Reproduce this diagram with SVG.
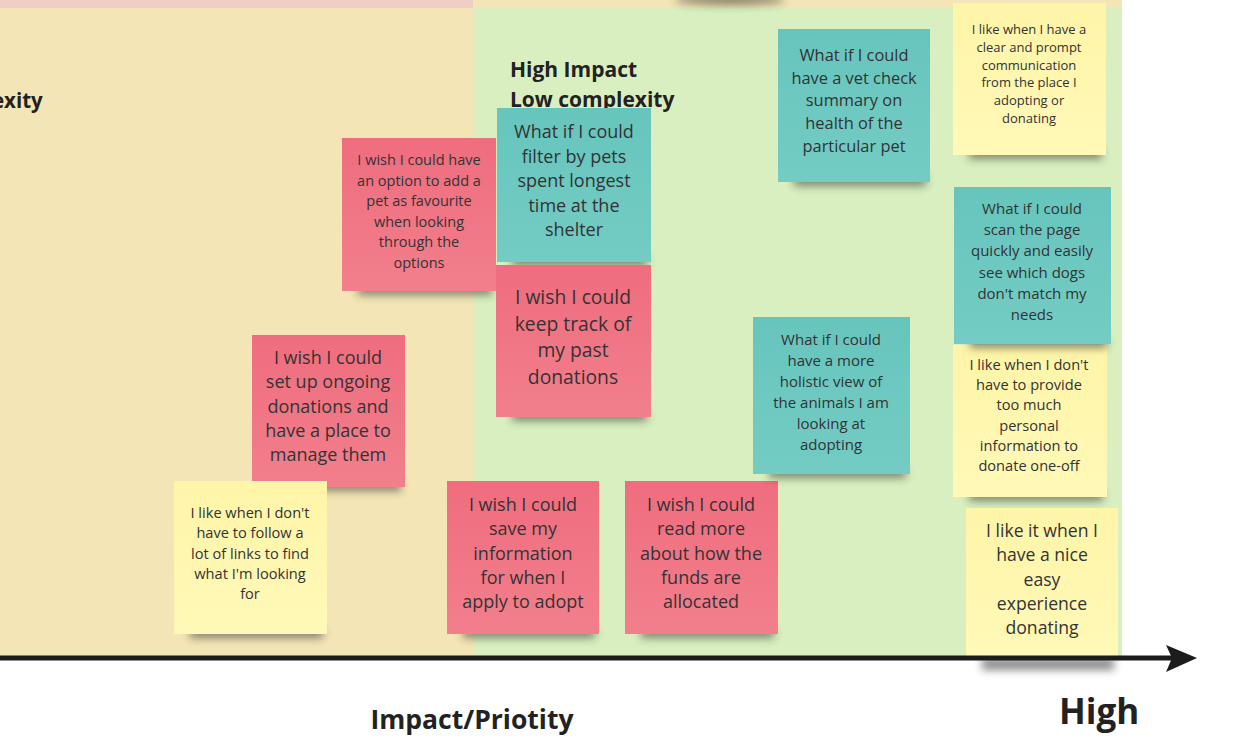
<svg xmlns="http://www.w3.org/2000/svg" width="1250" height="750" viewBox="0 0 1250 750">
<defs>
<filter id="blur" x="-20%" y="-100%" width="140%" height="300%"><feGaussianBlur stdDeviation="4"/></filter>
<linearGradient id="gPink" x1="0" y1="0" x2="0" y2="1"><stop offset="0" stop-color="#ef6d7e"/><stop offset="1" stop-color="#f27f8c"/></linearGradient>
<linearGradient id="gTeal" x1="0" y1="0" x2="0" y2="1"><stop offset="0" stop-color="#66c5bd"/><stop offset="1" stop-color="#74ccc4"/></linearGradient>
<linearGradient id="gYel" x1="0" y1="0" x2="0" y2="1"><stop offset="0" stop-color="#fff5a8"/><stop offset="1" stop-color="#fff9b8"/></linearGradient>
<style>
.pink{fill:url(#gPink)}
.teal{fill:url(#gTeal)}
.yel{fill:url(#gYel)}
.sh{fill:#2a2a2a;opacity:0.55;filter:url(#blur)}
text{font-family:"Open Sans","Noto Sans","DejaVu Sans",sans-serif;fill:#333;text-anchor:middle}
.hd{font-weight:bold;fill:#222;text-anchor:start}
</style>
</defs>
<g id="background">
<rect x="0" y="0" width="473" height="8" fill="#f1cdc8"/>
<rect x="473" y="0" width="649" height="8" fill="#f3e5b5"/>
<rect x="0" y="8" width="473" height="650" fill="#f3e5b5"/>
<rect x="473" y="8" width="649" height="650" fill="#d9efbf"/>
<ellipse cx="730" cy="0" rx="55" ry="5" class="sh"/>
</g>
<g id="labels">
<text class="hd" x="-8" y="108" font-size="20.5">exity</text>
<text class="hd" x="510" y="77" font-size="21">High Impact</text>
<text class="hd" x="510" y="107" font-size="21">Low complexity</text>
<text class="hd" x="1059" y="724" font-size="35">High</text>
<text class="hd" x="472" y="729" font-size="26.5" style="text-anchor:middle">Impact/Priotity</text>
</g>
<g id="n1"><rect class="sh" x="358" y="285" width="134" height="10"/><rect class="pink" x="342" y="138" width="154" height="153"/>
<text font-size="14.5"><tspan x="419" y="165">I wish I could have</tspan><tspan x="419" y="185.5">an option to add a</tspan><tspan x="419" y="206">pet as favourite</tspan><tspan x="419" y="226.5">when looking</tspan><tspan x="419" y="247">through the</tspan><tspan x="419" y="267.5">options</tspan></text></g>
<g id="n2"><rect class="sh" x="512" y="256" width="135" height="10"/><rect class="teal" x="497" y="108" width="154" height="154"/>
<text font-size="18"><tspan x="574" y="138">What if I could</tspan><tspan x="574" y="162.5">filter by pets</tspan><tspan x="574" y="187">spent longest</tspan><tspan x="574" y="211.5">time at the</tspan><tspan x="574" y="236">shelter</tspan></text></g>
<g id="n3"><rect class="sh" x="512" y="411" width="135" height="10"/><rect class="pink" x="496" y="265" width="155" height="152"/>
<text font-size="19.3"><tspan x="573" y="304">I wish I could</tspan><tspan x="573" y="330.5">keep track of</tspan><tspan x="573" y="357">my past</tspan><tspan x="573" y="383.5">donations</tspan></text></g>
<g id="n4"><rect class="sh" x="268" y="481" width="133" height="10"/><rect class="pink" x="252" y="335" width="153" height="152"/>
<text font-size="18"><tspan x="328" y="364">I wish I could</tspan><tspan x="328" y="388.3">set up ongoing</tspan><tspan x="328" y="412.6">donations and</tspan><tspan x="328" y="436.9">have a place to</tspan><tspan x="328" y="461.2">manage them</tspan></text></g>
<g id="n5"><rect class="sh" x="190" y="628" width="133" height="10"/><rect class="yel" x="174" y="481" width="153" height="153"/>
<text font-size="14.6"><tspan x="250" y="518">I like when I don't</tspan><tspan x="250" y="538.3">have to follow a</tspan><tspan x="250" y="558.6">lot of links to find</tspan><tspan x="250" y="578.9">what I'm looking</tspan><tspan x="250" y="599.2">for</tspan></text></g>
<g id="n6"><rect class="sh" x="463" y="628" width="132" height="10"/><rect class="pink" x="447" y="481" width="152" height="153"/>
<text font-size="18"><tspan x="523" y="511">I wish I could</tspan><tspan x="523" y="535.3">save my</tspan><tspan x="523" y="559.6">information</tspan><tspan x="523" y="583.9">for when I</tspan><tspan x="523" y="608.2">apply to adopt</tspan></text></g>
<g id="n7"><rect class="sh" x="641" y="628" width="133" height="10"/><rect class="pink" x="625" y="481" width="153" height="153"/>
<text font-size="18"><tspan x="701" y="511">I wish I could</tspan><tspan x="701" y="535.3">read more</tspan><tspan x="701" y="559.6">about how the</tspan><tspan x="701" y="583.9">funds are</tspan><tspan x="701" y="608.2">allocated</tspan></text></g>
<g id="n8"><rect class="sh" x="794" y="176" width="132" height="10"/><rect class="teal" x="778" y="29" width="152" height="153"/>
<text font-size="16.4"><tspan x="854" y="61">What if I could</tspan><tspan x="854" y="83.7">have a vet check</tspan><tspan x="854" y="106.4">summary on</tspan><tspan x="854" y="129.1">health of the</tspan><tspan x="854" y="151.8">particular pet</tspan></text></g>
<g id="n9"><rect class="sh" x="769" y="468" width="137" height="10"/><rect class="teal" x="753" y="317" width="157" height="157"/>
<text font-size="15"><tspan x="831" y="345">What if I could</tspan><tspan x="831" y="366">have a more</tspan><tspan x="831" y="387">holistic view of</tspan><tspan x="831" y="408">the animals I am</tspan><tspan x="831" y="429">looking at</tspan><tspan x="831" y="450">adopting</tspan></text></g>
<g id="n10"><rect class="sh" x="969" y="149" width="133" height="10"/><rect class="yel" x="953" y="3" width="153" height="152"/>
<text font-size="13"><tspan x="1029" y="34">I like when I have a</tspan><tspan x="1029" y="51.8">clear and prompt</tspan><tspan x="1029" y="69.6">communication</tspan><tspan x="1029" y="87.4">from the place I</tspan><tspan x="1029" y="105.2">adopting or</tspan><tspan x="1029" y="123">donating</tspan></text></g>
<g id="n12"><rect class="sh" x="969" y="491" width="134" height="10"/><rect class="yel" x="953" y="345" width="154" height="152"/>
<text font-size="14.6"><tspan x="1029" y="370">I like when I don't</tspan><tspan x="1029" y="390.2">have to provide</tspan><tspan x="1029" y="410.4">too much</tspan><tspan x="1029" y="430.6">personal</tspan><tspan x="1029" y="450.8">information to</tspan><tspan x="1029" y="471">donate one-off</tspan></text></g>
<g id="n11"><rect class="sh" x="970" y="338" width="137" height="10"/><rect class="teal" x="954" y="187" width="157" height="157"/>
<text font-size="15"><tspan x="1032" y="214">What if I could</tspan><tspan x="1032" y="235.2">scan the page</tspan><tspan x="1032" y="256.4">quickly and easily</tspan><tspan x="1032" y="277.6">see which dogs</tspan><tspan x="1032" y="298.8">don't match my</tspan><tspan x="1032" y="320">needs</tspan></text></g>
<g id="n13"><rect class="sh" x="982" y="658" width="132" height="12"/><rect class="yel" x="966" y="508" width="152" height="150"/>
<text font-size="17.6"><tspan x="1042" y="537">I like it when I</tspan><tspan x="1042" y="561.3">have a nice</tspan><tspan x="1042" y="585.6">easy</tspan><tspan x="1042" y="609.9">experience</tspan><tspan x="1042" y="634.2">donating</tspan></text></g>
<g id="connectors">
<line x1="0" y1="658" x2="1175" y2="658" stroke="#1c1c1c" stroke-width="5"/>
<path d="M1166,645 L1197,658 L1166,672 L1172,658 Z" fill="#1c1c1c"/>
</g>
</svg>
